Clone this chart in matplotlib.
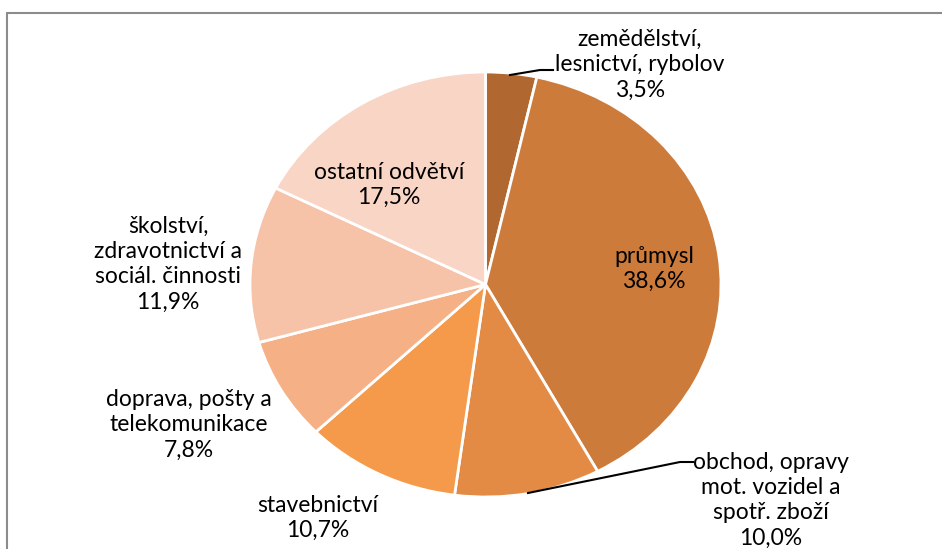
import matplotlib.pyplot as plt
from matplotlib.patches import Rectangle

# data
labels = ['zemědělství,\nlesnictví, rybolov', 'průmysl', 'obchod, opravy\nmot. vozidel a\nspotř. zboží',
          'stavebnictví', 'doprava, pošty a\ntelekomunikace', 'školství,\nzdravotnictví a\nsociál. činnosti',
          'ostatní odvětví']
shares = [3.5, 38.6, 10.0, 10.7, 7.8, 11.9, 17.5]
colors = ['#b06830', '#cd7b3a', '#e38a45', '#f59a4a', '#f6b086', '#f7c3a8', '#f9d5c5']

# label centres in pixels (layout only)
lab_px = [(640, 65), (654, 269), (771, 500), (318, 518), (189, 425), (168, 264), (389, 185)]

W, H = 942, 549
cx, cy, rx, ry = 485.5, 284.5, 235.5, 212.5

plt.rcParams['font.family'] = ['Lato', 'DejaVu Sans']
fig = plt.figure(figsize=(W / 100, H / 100), dpi=100)
fig.patches.append(Rectangle((7 / W, -0.1), 1.2, 1 - 13 / H + 0.1, transform=fig.transFigure,
                             facecolor='none', edgecolor='#8c8c8c', lw=1.5))

ax = fig.add_axes([(cx - rx) / W, 1 - (cy + ry) / H, 2 * rx / W, 2 * ry / H])
ax.pie(shares, colors=colors, startangle=90, counterclock=False, radius=1,
       wedgeprops=dict(edgecolor='white', linewidth=2))
ax.set_aspect('auto')
ax.set_xlim(-1, 1)
ax.set_ylim(-1, 1)
ax.axis('off')


def to_data(px, py):
    return (px - cx) / rx, (cy - py) / ry


for lab, val, (px, py) in zip(labels, shares, lab_px):
    x, y = to_data(px, py)
    txt = lab + '\n' + ('%.1f' % val).replace('.', ',') + '%'
    ax.text(x, y, txt, ha='center', va='center', fontsize=16.5, linespacing=1.25,
            color='black', clip_on=False)

# leader lines
for pts in [[(510, 75), (540, 70), (553, 70)], [(528, 493), (680, 462), (693, 462)]]:
    xs, ys = zip(*[to_data(p, q) for p, q in pts])
    ax.plot(xs, ys, color='black', lw=1.5, clip_on=False)

fig.savefig('out.png', dpi=100)
